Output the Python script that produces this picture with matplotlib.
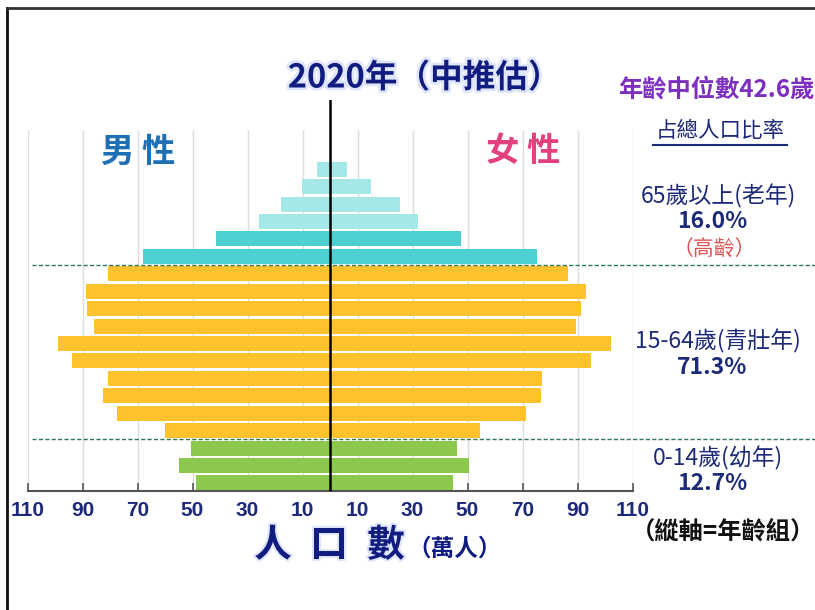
import numpy as np
import matplotlib
matplotlib.use("Agg")
from matplotlib import pyplot as plt
from matplotlib.lines import Line2D
import matplotlib.patheffects as pe

# population by age group, 10k persons
age_groups = ["0-4", "5-9", "10-14", "15-19", "20-24", "25-29", "30-34", "35-39", "40-44",
              "45-49", "50-54", "55-59", "60-64", "65-69", "70-74", "75-79", "80-84", "85-89", "90+"]
male = [48.8, 54.8, 50.5, 60.0, 77.3, 82.4, 80.6, 93.7, 98.8, 85.8,
        88.5, 88.8, 80.6, 68.1, 41.5, 25.8, 17.9, 10.1, 4.6]
female = [44.8, 50.5, 46.3, 54.5, 71.3, 76.6, 77.0, 94.8, 102.1, 89.5,
          91.3, 93.0, 86.4, 75.2, 47.6, 31.9, 25.5, 14.8, 6.1]
group_of = ["child"] * 3 + ["work"] * 10 + ["old"] * 2 + ["oldold"] * 4
tick_vals = [-110, -90, -70, -50, -30, -10, 10, 30, 50, 70, 90, 110]
tick_labels = [str(abs(v)) for v in tick_vals]

title = "2020年（中推估）"
median_txt = "年齡中位數42.6歲"
share_head = "占總人口比率"
shares = [("65歲以上(老年)", "16.0%"), ("15-64歲(青壯年)", "71.3%"), ("0-14歲(幼年)", "12.7%")]

W, H = 815, 610
CJK = ["Noto Sans CJK TC", "DejaVu Sans"]
NAVY = "#1c2a78"
cols = {"child": "#8cc84b", "work": "#fdc22e", "old": "#4ecfd2", "oldold": "#a6e7e7"}


def px(x, y):
    return x / W, 1 - y / H


fig = plt.figure(figsize=(W / 100, H / 100), dpi=100)
fig.patch.set_facecolor("white")
ax = fig.add_axes([27.5 / W, 119 / H, 605 / W, 391 / H])

y = np.arange(len(age_groups))
bar_cols = [cols[g] for g in group_of]
ax.barh(y, -np.array(male), height=0.86, color=bar_cols, zorder=2)
ax.barh(y, female, height=0.86, color=bar_cols, zorder=2)

ax.set_xlim(-110, 110)
ax.set_ylim(-0.46, 21.97)
ax.vlines(tick_vals, -0.46, 20.25, color="#dcdcdc", lw=1, zorder=0)
ax.axvline(0, color="black", lw=1.8, zorder=4)
for yy in [2.5, 12.5]:
    ax.plot([-108.4, 176.4], [yy, yy], ls=(0, (3, 1.6)), color="#2f7a55", lw=1,
            clip_on=False, zorder=3)

for s in ["left", "right", "top"]:
    ax.spines[s].set_visible(False)
ax.spines["bottom"].set_color("#555555")
ax.spines["bottom"].set_linewidth(1.5)
ax.set_yticks([])
ax.set_xticks(tick_vals)
ax.set_xticklabels(tick_labels, fontsize=15, fontweight="bold", color=NAVY,
                   family=["Liberation Sans Narrow", "Liberation Sans"])
ax.tick_params(axis="x", direction="in", length=6, width=1.2, color="#555555", pad=7)

# frame
fig.add_artist(Line2D([7 / W, 7 / W], [0, 1 - 8 / H], color="#111111", lw=2))
fig.add_artist(Line2D([7 / W, 1], [1 - 8 / H, 1 - 8 / H], color="#333333", lw=2))

# titles
fig.text(*px(424, 78), title, ha="center", va="center", fontsize=23.5, fontweight="bold",
         color="#101c80", family=CJK,
         path_effects=[pe.withStroke(linewidth=4, foreground="#dfe5fb")])
fig.text(*px(618, 89), median_txt, ha="left", va="center", fontsize=17.5, fontweight="bold",
         color="#7d2fc0", family=CJK)
fig.text(*px(720, 131), share_head, ha="center", va="center", fontsize=15.5,
         color=NAVY, family=CJK)
fig.add_artist(Line2D([653 / W, 787 / W], [1 - 145 / H, 1 - 145 / H], color=NAVY, lw=1.5))

fig.text(*px(138, 152), "男 性", ha="center", va="center", fontsize=24, fontweight="bold",
         color="#1f6fb5", family=CJK)
fig.text(*px(523, 152), "女 性", ha="center", va="center", fontsize=24, fontweight="bold",
         color="#e2407e", family=CJK)

# age share labels
label_y = [(196, 222), (341, 368), (458, 483)]
for (lab, pct), (y1, y2) in zip(shares, label_y):
    fig.text(*px(718, y1), lab, ha="center", va="center", fontsize=16.5, color=NAVY, family=CJK)
    fig.text(*px(712, y2), pct, ha="center", va="center", fontsize=16.5, fontweight="bold",
             color=NAVY, family=CJK)
fig.text(*px(714, 250), "（高齡）", ha="center", va="center", fontsize=15,
         color="#d9534f", family=CJK)

# x axis title
for ch, xx in zip(["人", "口", "數"], [273, 329, 386]):
    fig.text(*px(xx, 545), ch, ha="center", va="center", fontsize=27, fontweight="bold",
             color="#101c80", family=CJK,
             path_effects=[pe.withStroke(linewidth=3, foreground="#dfe5fb")])
fig.text(*px(455, 549), "（萬人）", ha="center", va="center", fontsize=17, fontweight="bold",
         color="#101c80", family=CJK)
fig.text(*px(723, 531), "（縱軸=年齡組）", ha="center", va="center", fontsize=17.5,
         fontweight="bold", color="#111111", family=CJK)

fig.savefig("out.png", dpi=100)
